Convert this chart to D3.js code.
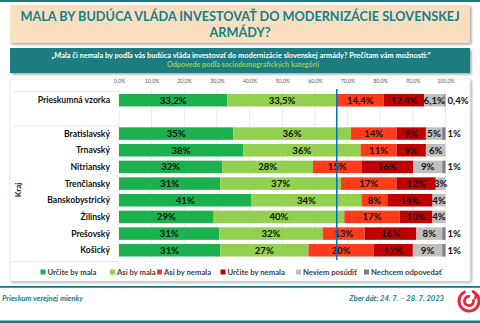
<!DOCTYPE html>
<html><head><meta charset="utf-8">
<script src="https://cdn.jsdelivr.net/npm/d3@7"></script>
<style>
html,body{margin:0;padding:0;background:#fff;}
svg{display:block;font-family:Lato,"Open Sans",sans-serif;}
</style></head>
<body><svg id="c" width="480" height="323"></svg>
<script>
// ---- data ----
const categories = ["Prieskumná vzorka","Bratislavský","Trnavský","Nitriansky","Trenčiansky","Banskobystrický","Žilinský","Prešovský","Košický"];
const seriesNames = ["Určite by mala","Asi by mala","Asi by nemala","Určite by nemala","Neviem posúdiť","Nechcem odpovedať"];
const seriesColors = ["#1db04f","#92d050","#ff3b1c","#c00000","#bfbfbf","#7f7f7f"];
const urciteMala   = [33.2, 35, 38, 32, 31, 41, 29, 31, 31];
const asiMala      = [33.5, 36, 36, 28, 37, 34, 40, 32, 27];
const asiNemala    = [14.4, 14, 11, 15, 17,  8, 17, 13, 20];
const urciteNemala = [12.4,  9,  9, 16, 12, 14, 10, 16, 12];
const neviem       = [ 6.1,  5,  6,  9,  3,  4,  4,  8,  9];
const nechcem      = [ 0.4,  1,  0,  1,  0,  0,  0,  1,  1];
const tickValues = [0,0.1,0.2,0.3,0.4,0.5,0.6,0.7,0.8,0.9,1.0];
const refLine = 0.667; // share "mala" in the whole sample
const title = ["MALA BY BUDÚCA VLÁDA INVESTOVAŤ DO MODERNIZÁCIE SLOVENSKEJ","ARMÁDY?"];
const subtitle1 = "„Mala či nemala by podľa vás budúca vláda investovať do modernizácie slovenskej armády? Prečítam vám možnosti:“";
const subtitle2 = "Odpovede podľa sociodemografických kategórií";
const groupLabel = "Kraj";
const footerLeft = "Prieskum verejnej mienky";
const footerRight = "Zber dát: 24. 7. – 28. 7. 2023";

const keys = ["s0","s1","s2","s3","s4","s5"];
const seriesArrays = [urciteMala, asiMala, asiNemala, urciteNemala, neviem, nechcem];
const rows = categories.map((c,i)=>{const o={cat:c}; keys.forEach((k,j)=>o[k]=seriesArrays[j][i]); return o;});

const svg = d3.select("#c");
const teal = "#14808a";
const loc = d3.formatLocale({decimal:",",thousands:" ",grouping:[3],currency:["","€"]});
const f1 = loc.format(".1f");
const fmtVal = v => Number.isInteger(v) ? v + "%" : f1(v) + "%";

// top line
svg.append("rect").attr("x",0).attr("y",0).attr("width",480).attr("height",2).attr("fill","#1b7b80");

// shadow filter
const defs = svg.append("defs");
const flt = defs.append("filter").attr("id","sh").attr("x","-5%").attr("y","-10%").attr("width","110%").attr("height","130%");
flt.append("feDropShadow").attr("dx",1.5).attr("dy",1.5).attr("stdDeviation",1).attr("flood-color","#000").attr("flood-opacity",0.35);

// title box
svg.append("rect").attr("x",10).attr("y",5).attr("width",460).attr("height",38).attr("fill","#f8dfc0").attr("filter","url(#sh)");
svg.append("text").attr("x",240).attr("y",20.5).attr("text-anchor","middle").attr("fill",teal)
  .attr("font-weight","bold").attr("font-size",12.7).text(title[0]);
svg.append("text").attr("x",240).attr("y",36.5).attr("text-anchor","middle").attr("fill",teal)
  .attr("font-weight","bold").attr("font-size",12.7).text(title[1]);

// subtitle box
svg.append("rect").attr("x",10).attr("y",48).attr("width",460).attr("height",25).attr("fill","#1b7b80").attr("filter","url(#sh)");
svg.append("text").attr("x",241).attr("y",57.5).attr("text-anchor","middle").attr("fill","#fff")
  .attr("font-weight","bold").attr("font-size",7.4).text(subtitle1);
svg.append("text").attr("x",243).attr("y",67.2).attr("text-anchor","middle").attr("fill","#92d050")
  .attr("font-weight","bold").attr("font-size",7.2).text(subtitle2);

// chart panel
svg.append("rect").attr("x",10).attr("y",79).attr("width",460).attr("height",202).attr("fill","#fff")
  .attr("stroke","#d9d9d9").attr("stroke-width",0.5).attr("filter","url(#sh)");

// scales
const x = d3.scaleLinear().domain([0,1]).range([119,445.5]);
const bandDomain = [categories[0], "__gap__", ...categories.slice(1)];
const y = d3.scaleBand().domain(bandDomain).range([91.9,258.6]).paddingInner(0.25).paddingOuter(0.125);

// gridlines + tick labels
const g = svg.append("g");
g.selectAll("line.grid").data(tickValues).join("line")
  .attr("x1",d=>x(d)).attr("x2",d=>x(d)).attr("y1",89).attr("y2",259)
  .attr("stroke","#e3e3e3").attr("stroke-width",0.7);
const axis = d3.axisTop(x).tickValues(tickValues).tickSize(0).tickFormat(d=>f1(d*100)+"%");
const ax = svg.append("g").attr("transform","translate(0,86)").call(axis);
ax.select(".domain").remove();
ax.selectAll("text").attr("font-size",5.2).attr("fill","#595959").attr("font-family","Lato,sans-serif");

// label table lines
[[13,91.5],[13,126],[10,261.5]].forEach(([x0,yy])=>{
  svg.append("line").attr("x1",x0).attr("x2",119).attr("y1",yy).attr("y2",yy).attr("stroke","#e3e3e3").attr("stroke-width",0.8);
});

// stack
const stack = d3.stack().keys(keys).offset(d3.stackOffsetExpand);
const stacked = stack(rows);
const bars = svg.append("g");
stacked.forEach((s,si)=>{
  bars.selectAll("rect.s"+si).data(s).join("rect")
    .attr("x",d=>x(d[0])).attr("width",d=>Math.max(0,x(d[1])-x(d[0])))
    .attr("y",d=>y(d.data.cat)).attr("height",y.bandwidth())
    .attr("fill",seriesColors[si]);
});

// value labels
const lab = svg.append("g").attr("font-weight","bold").attr("font-size",9.6).attr("fill","#111");
stacked.forEach((s,si)=>{
  s.forEach(d=>{
    const v = d.data[keys[si]];
    if(!v) return;
    const yy = y(d.data.cat)+y.bandwidth()/2+3.5;
    if(si===5){
      lab.append("text").attr("x",x(1)+2).attr("y",yy).attr("text-anchor","start").text(fmtVal(v));
    } else {
      lab.append("text").attr("x",(x(d[0])+x(d[1]))/2).attr("y",yy).attr("text-anchor","middle").text(fmtVal(v));
    }
  });
});

// reference line
svg.append("line").attr("x1",x(refLine)).attr("x2",x(refLine)).attr("y1",89).attr("y2",260)
  .attr("stroke","#0070c0").attr("stroke-width",1.5);

// category labels
svg.append("g").selectAll("text").data(categories).join("text")
  .attr("x",110).attr("y",d=>y(d)+y.bandwidth()/2+3)
  .attr("text-anchor","end").attr("font-weight","bold").attr("font-size",8.6).attr("fill","#111").text(d=>d);

// group label
svg.append("text").attr("transform","translate(21,190) rotate(-90)").attr("text-anchor","middle")
  .attr("font-weight","bold").attr("font-size",8).attr("fill","#111").text(groupLabel);

// legend
const legX = [40.5,110,157,220.5,296,364];
const leg = svg.append("g");
seriesNames.forEach((n,i)=>{
  leg.append("rect").attr("x",legX[i]).attr("y",269.5).attr("width",5).attr("height",5).attr("fill",seriesColors[i]);
  leg.append("text").attr("x",legX[i]+7).attr("y",274.6).attr("font-size",7.7).attr("font-weight","bold").attr("fill","#404040").text(n);
});

// footer
svg.append("rect").attr("x",0).attr("y",286).attr("width",480).attr("height",1.8).attr("fill","#1b7b80");
svg.append("rect").attr("x",0).attr("y",320.5).attr("width",480).attr("height",2.5).attr("fill","#1b7b80");
svg.append("text").attr("x",2).attr("y",301).attr("font-size",7.6).attr("font-style","italic").attr("font-weight","bold").attr("fill",teal).text(footerLeft);
svg.append("text").attr("x",444).attr("y",301).attr("text-anchor","end").attr("font-size",7.6).attr("font-style","italic").attr("font-weight","bold").attr("fill",teal).text(footerRight);

// logo (spiral)
const lg = svg.append("g").attr("transform","translate(469,301)");
lg.append("path").attr("d",d3.arc()({innerRadius:8.5,outerRadius:11.5,startAngle:0.5,endAngle:2*Math.PI-0.35})).attr("fill","#e4283c");
lg.append("path").attr("d",d3.arc()({innerRadius:3.2,outerRadius:6,startAngle:1.2,endAngle:2*Math.PI+0.2})).attr("fill","#e4283c");
lg.append("path").attr("d","M6,-2 Q9,-8 3,-10").attr("fill","none").attr("stroke","#e4283c").attr("stroke-width",2.6);
</script></body></html>
